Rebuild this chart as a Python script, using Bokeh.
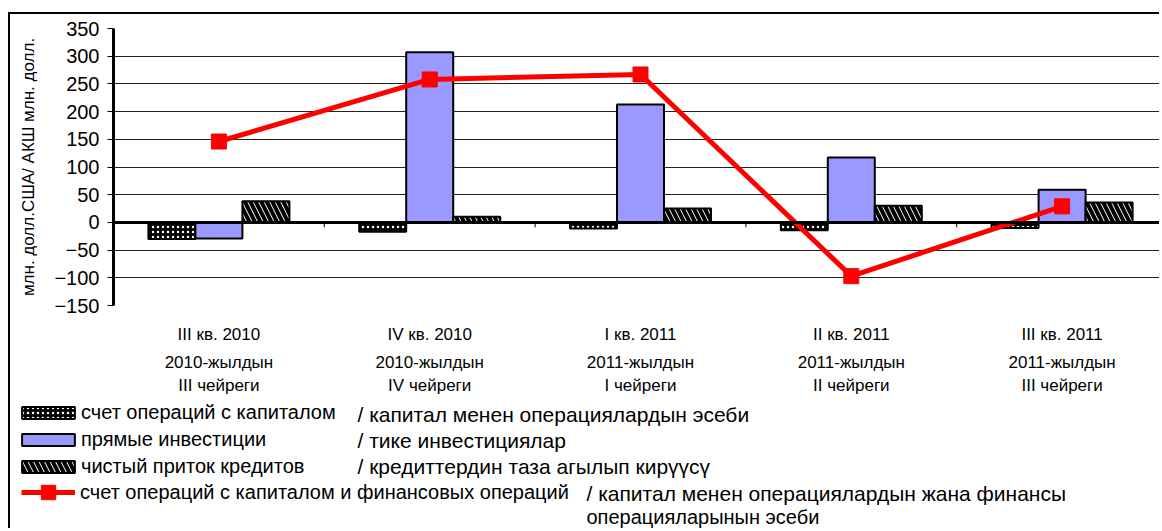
from bokeh.plotting import figure
from bokeh.models import (Range1d, FixedTicker, LinearAxis, Legend, LegendItem, Label, Span,
                          Div, Spacer)
from bokeh.layouts import column, row
from bokeh.embed import file_html
from bokeh.resources import INLINE

# ---------------- data ----------------
quarters_ru = ["III кв. 2010", "IV кв. 2010", "I кв. 2011", "II кв. 2011", "III кв. 2011"]
quarters_ky_year = ["2010-жылдын", "2010-жылдын", "2011-жылдын", "2011-жылдын", "2011-жылдын"]
quarters_ky_q = ["III чейреги", "IV чейреги", "I чейреги", "II чейреги", "III чейреги"]
capital_ops = [-30, -17, -11, -14, -10]
direct_inv = [-29, 307, 213, 117, 59]
net_credit = [38, 10, 25, 30, 36]
capital_fin = [146, 258, 267, -97, 29]
y_ticks = [-150, -100, -50, 0, 50, 100, 150, 200, 250, 300, 350]

series_ru = ["счет операций с капиталом", "прямые инвестиции", "чистый приток кредитов",
             "счет операций с капиталом и финансовых операций"]
series_ky = ["/ капитал менен операциялардын эсеби", "/ тике инвестициялар",
             "/ кредиттердин таза агылып кирүүсү", "/ капитал менен операциялардын жана финансы",
             "операцияларынын эсеби"]
y_title = "млн. долл.США/ АКШ млн. долл."

# ---------------- layout ----------------
FONT = "Liberation Sans"
X0, Y0PAGE = 11, 15          # page position of the charts (inside the border)
W = 1149
ML, MT = 103, 14
FH = 277
CH = 383                     # chart figure height
LH = 131                     # legend figure height
FW = W - ML
CAT_PX = 210.8
X_END = FW / CAT_PX
Y0, Y1 = -150, 350

n = len(quarters_ru)
centers = [i + 0.5 for i in range(n)]
bw = 0.223

CAP = dict(fill_color="black", hatch_pattern="dot", hatch_color="white",
           hatch_scale=5, hatch_weight=1.5, line_color="black", line_width=2)
INV = dict(fill_color="#9999FF", line_color="black", line_width=2)
CRED = dict(fill_color="white", hatch_pattern="left_diagonal_line", hatch_color="black",
            hatch_scale=11, hatch_weight=4, line_color="black", line_width=2)
RED = "#FF0000"

p = figure(width=W, height=CH, output_backend="svg", toolbar_location=None,
           x_range=Range1d(0, X_END), y_range=Range1d(Y0, Y1),
           x_axis_location=None, min_border_left=ML, min_border_top=MT,
           min_border_right=0, min_border_bottom=CH - MT - FH, frame_align=False)
p.outline_line_color = None
p.xgrid.visible = False

# y axis
p.yaxis.ticker = FixedTicker(ticks=y_ticks)
p.ygrid.ticker = FixedTicker(ticks=y_ticks)
p.ygrid.grid_line_color = "#222222"
p.ygrid.grid_line_width = 1
p.yaxis.axis_line_width = 3
p.yaxis.axis_line_color = "black"
p.yaxis.major_tick_out = 6
p.yaxis.major_tick_in = 0
p.yaxis.minor_tick_line_color = None
p.yaxis.major_label_standoff = 8
p.yaxis.major_label_text_font = FONT
p.yaxis.major_label_text_font_size = "20px"
p.yaxis.major_label_text_color = "black"
p.yaxis.axis_label = y_title
p.yaxis.axis_label_text_font = FONT
p.yaxis.axis_label_text_font_size = "17px"
p.yaxis.axis_label_text_font_style = "normal"
p.yaxis.axis_label_text_color = "black"
p.yaxis.axis_label_standoff = 13


# x axes (category labels, three stacked rows)
def cat_axis(labels, standoff):
    return LinearAxis(ticker=FixedTicker(ticks=centers),
                      major_label_overrides={c: t for c, t in zip(centers, labels)},
                      axis_line_color=None, major_tick_line_color=None,
                      minor_tick_line_color=None, major_tick_out=0, major_tick_in=0,
                      major_label_standoff=standoff, major_label_text_font=FONT,
                      major_label_text_font_size="17px", major_label_text_color="black")


p.add_layout(cat_axis(quarters_ru, 19), "below")
p.add_layout(cat_axis(quarters_ky_year, 6), "below")
p.add_layout(cat_axis(quarters_ky_q, 1), "below")

# bars
p.vbar(x=[c - bw for c in centers], top=capital_ops, bottom=0, width=bw, **CAP)
p.vbar(x=centers, top=direct_inv, bottom=0, width=bw, **INV)
p.vbar(x=[c + bw for c in centers], top=net_credit, bottom=0, width=bw, **CRED)

# zero line and category separators
p.add_layout(Span(location=0, dimension="width", line_color="black", line_width=3))
tick_len = 5 * (Y1 - Y0) / FH
bounds = list(range(1, n + 1))
p.segment(x0=bounds, x1=bounds, y0=[0] * len(bounds), y1=[-tick_len] * len(bounds),
          line_color="black", line_width=1)

# line
p.line(centers, capital_fin, line_color=RED, line_width=5)
p.scatter(centers, capital_fin, marker="square", size=15, fill_color=RED, line_color=RED)

# ---------------- legend figure ----------------
q = figure(width=W, height=LH, output_backend="svg", toolbar_location=None,
           x_range=Range1d(0, W), y_range=Range1d(LH, 0),
           x_axis_location=None, y_axis_location=None, frame_align=False,
           min_border_left=0, min_border_right=0, min_border_top=0, min_border_bottom=0)
q.outline_line_color = None
q.grid.visible = False
LY0 = Y0PAGE + CH  # page y of legend figure top
LB = LY0 + LH      # page y of legend figure bottom

# hidden copies of the series, used only to draw the legend swatches
l1 = q.vbar(x=centers, top=capital_ops, width=bw, visible=False, **CAP)
l2 = q.vbar(x=centers, top=direct_inv, width=bw, visible=False, **INV)
l3 = q.vbar(x=centers, top=net_credit, width=bw, visible=False, **CRED)
l4 = q.line(x=centers, y=capital_fin, line_color=RED, line_width=5, visible=False)
l5 = q.scatter(x=centers, y=capital_fin, marker="square", size=15, fill_color=RED,
               line_color=RED, visible=False)

common = dict(orientation="vertical", padding=0, margin=0, border_line_color=None,
              background_fill_alpha=0, label_text_font=FONT, label_text_font_size="20px",
              label_text_color="black")
legend_bars = Legend(items=[LegendItem(label=series_ru[0], renderers=[l1]),
                            LegendItem(label=series_ru[1], renderers=[l2]),
                            LegendItem(label=series_ru[2], renderers=[l3])],
                     location=(16 - X0, LB - 479), glyph_width=66, glyph_height=15,
                     label_standoff=0, label_height=22, spacing=4, **common)
legend_line = Legend(items=[LegendItem(label=series_ru[3], renderers=[l4, l5])],
                     location=(22 - X0, LB - 511), glyph_width=54, glyph_height=36,
                     label_standoff=5, label_height=22, spacing=0, **common)
q.add_layout(legend_bars, "center")
q.add_layout(legend_line, "center")

ky_pos = [(358, 415), (358, 441), (358, 467), (587, 494), (587, 517)]
ky_size = ["21px", "21px", "21px", "21px", "20px"]
for txt, (lx, ly), fs in zip(series_ky, ky_pos, ky_size):
    q.add_layout(Label(x=lx - X0, y=ly - LY0, text=txt, text_font=FONT, text_font_size=fs,
                       text_baseline="middle", text_align="left", text_color="black"))

# ---------------- outer frame (top and left border) ----------------
top_border = Div(width=W + 2, height=2, margin=0, styles={"background-color": "black"})
left_border = Div(width=2, height=CH + LH, margin=0, styles={"background-color": "black"})
layout = column(Spacer(height=12, margin=0),
                row(Spacer(width=8, margin=0),
                    column(top_border,
                           row(left_border, column(p, q, spacing=0), spacing=0),
                           spacing=0),
                    spacing=0),
                spacing=0)

open("out.html", "w").write(file_html(layout, INLINE))
